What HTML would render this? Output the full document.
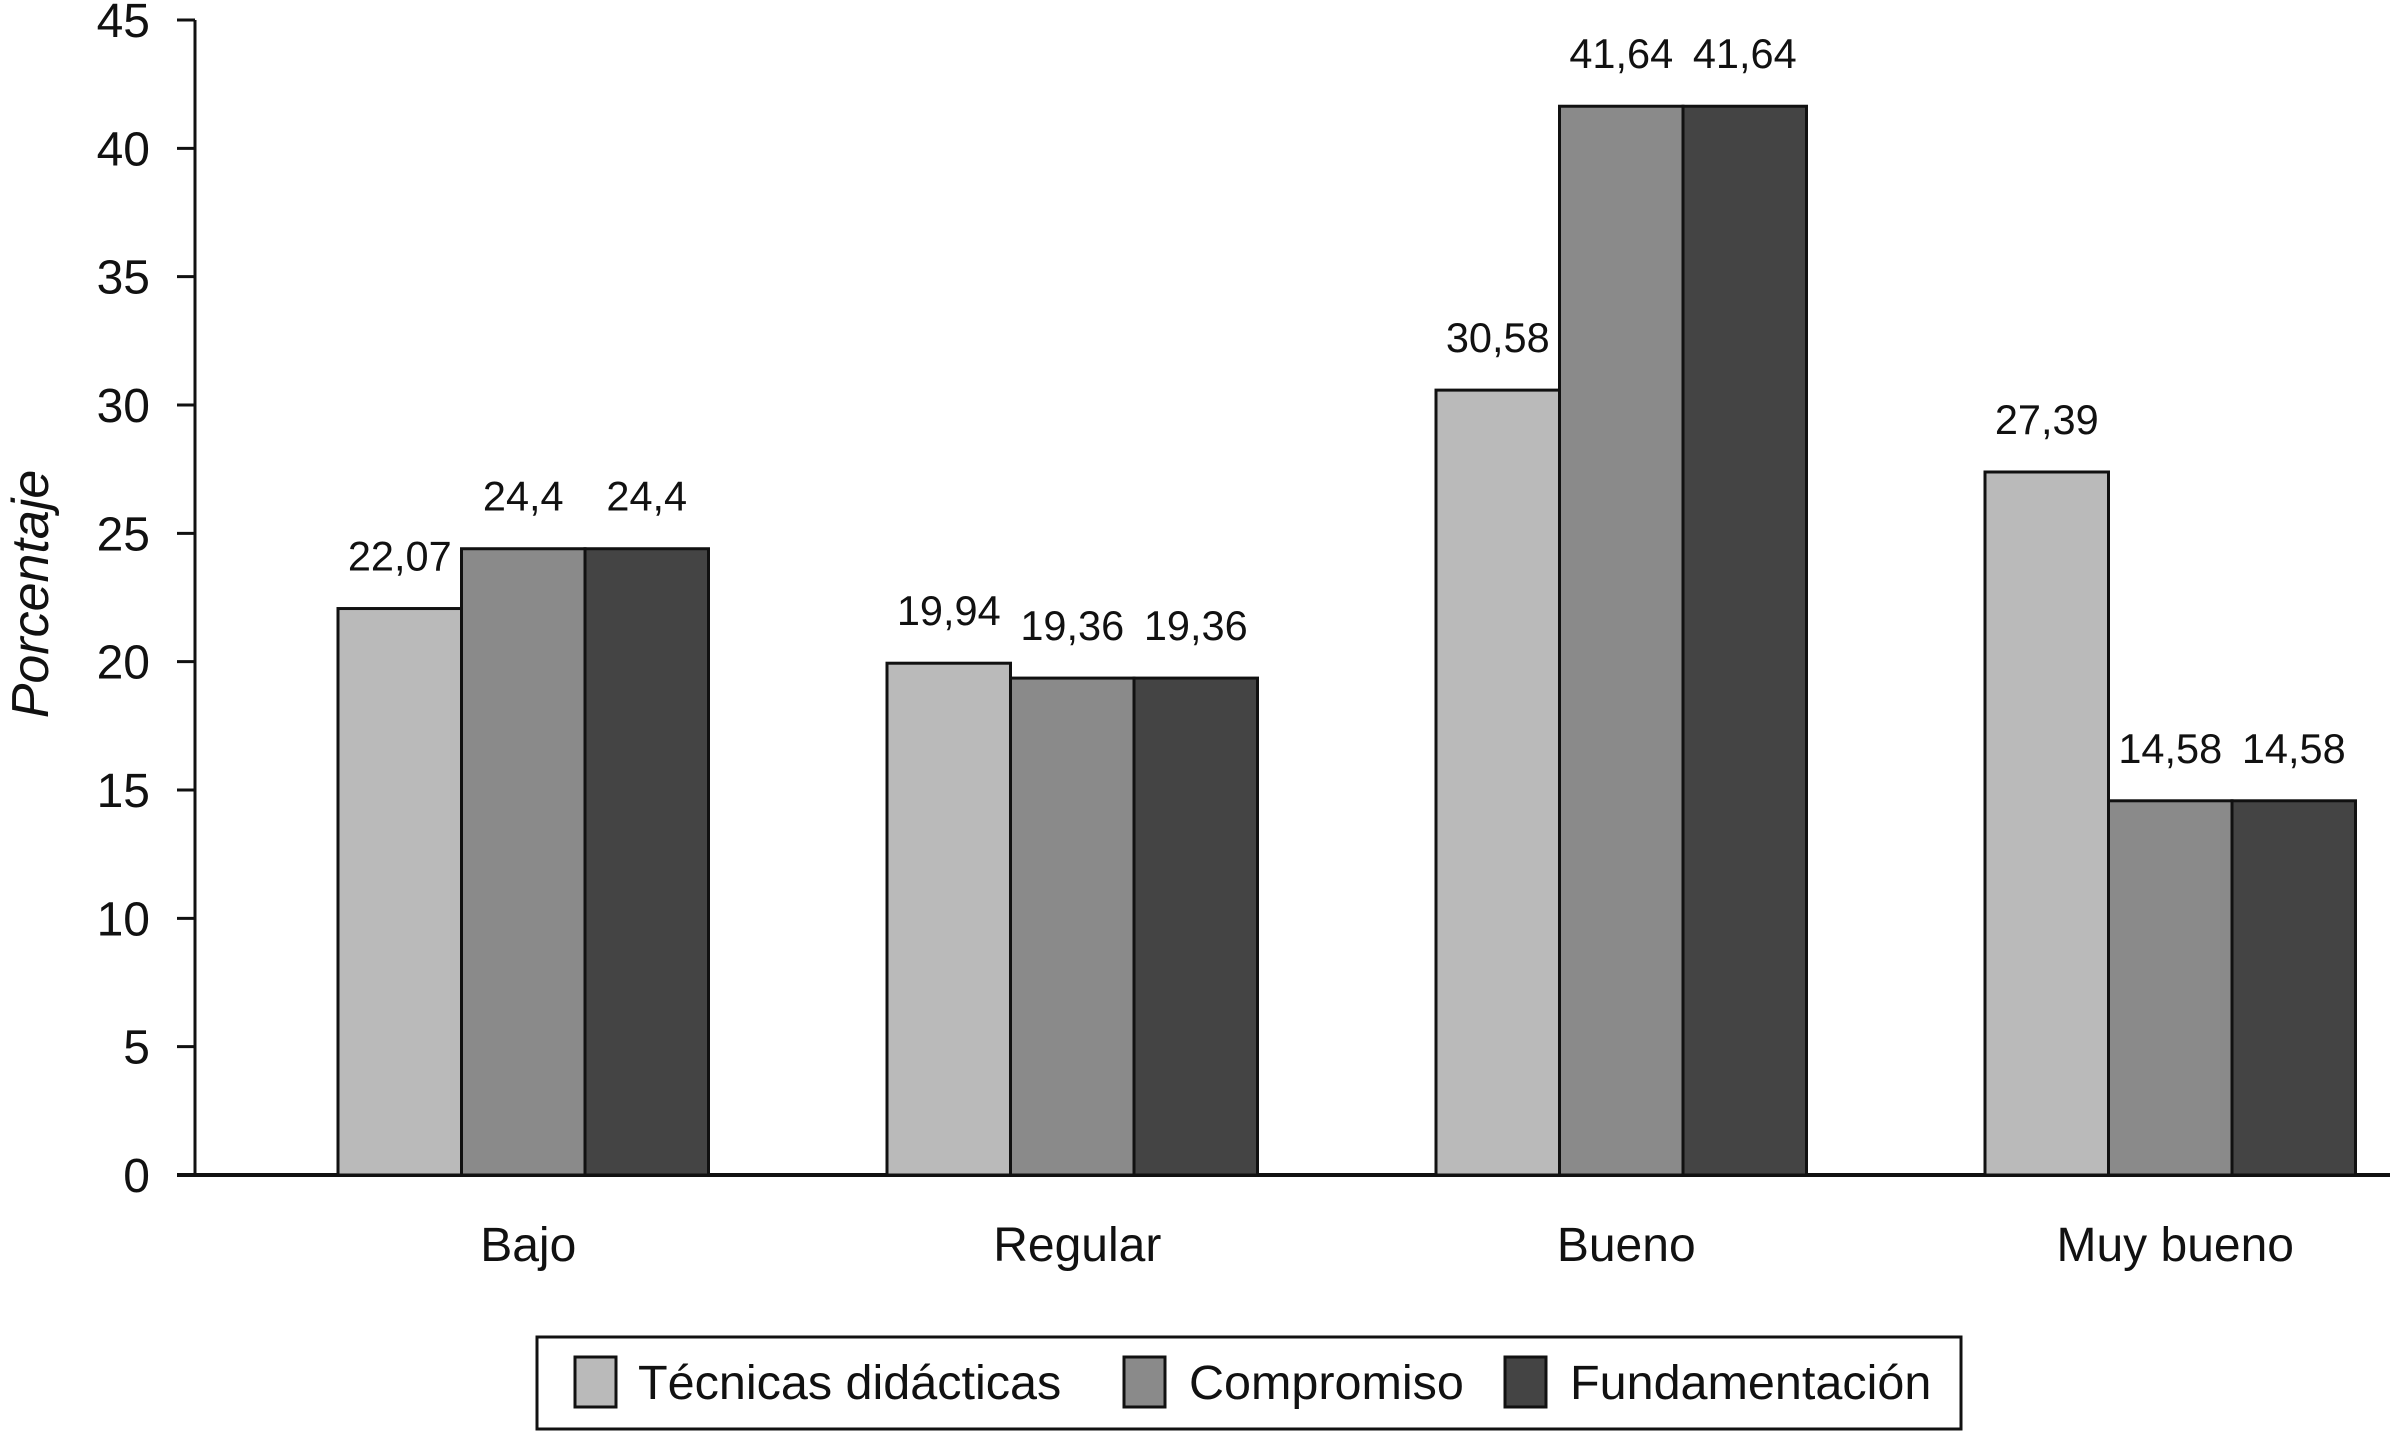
<!DOCTYPE html>
<html><head><meta charset="utf-8"><style>
html,body{margin:0;padding:0;background:#fff;}
svg{display:block;font-family:"Liberation Sans",Arial,sans-serif;}
</style></head><body>
<svg id="chart" width="2390" height="1432" viewBox="0 0 2390 1432" xmlns="http://www.w3.org/2000/svg">
<g id="axes"></g>
<g id="bars"></g>
<g id="labels"></g>
<text x="0" y="0" transform="translate(48,594) rotate(-90)" text-anchor="middle" font-size="52" font-style="italic" fill="#111">Porcentaje</text>
<g>
<rect x="537" y="1337" width="1424" height="92" fill="#fff" stroke="#111" stroke-width="3"/>
<rect x="575" y="1357" width="41" height="50" fill="#bababa" stroke="#111" stroke-width="3"/>
<text x="638" y="1399" font-size="48.5" fill="#111">Técnicas didácticas</text>
<rect x="1124" y="1357" width="41" height="50" fill="#8a8a8a" stroke="#111" stroke-width="3"/>
<text x="1189" y="1399" font-size="48.5" fill="#111">Compromiso</text>
<rect x="1505" y="1357" width="41" height="50" fill="#444" stroke="#111" stroke-width="3"/>
<text x="1570" y="1399" font-size="48.5" fill="#111">Fundamentación</text>
</g>
</svg>
<script>
const categories = ["Bajo","Regular","Bueno","Muy bueno"];
const seriesNames = ["Técnicas didácticas","Compromiso","Fundamentación"];
const tecnicas = [22.07,19.94,30.58,27.39];
const compromiso = [24.4,19.36,41.64,14.58];
const fundamentacion = [24.4,19.36,41.64,14.58];
const yTicks = [0,5,10,15,20,25,30,35,40,45];

const NS="http://www.w3.org/2000/svg";
const series=[tecnicas,compromiso,fundamentacion];
const colors=["#bababa","#8a8a8a","#444444"];
const x0=195, xEnd=2390, yBase=1175, yTop=20, yMax=45;
const groupStart=338, groupStep=549, barW=123.5;
function yScale(v){return yBase-(v/yMax)*(yBase-yTop);}
function xBar(ci,si){return groupStart+ci*groupStep+si*barW;}
function mk(tag,attrs,parent){const e=document.createElementNS(NS,tag);for(const k in attrs)e.setAttribute(k,attrs[k]);parent.appendChild(e);return e;}
const axes=document.getElementById('axes'),bars=document.getElementById('bars'),labels=document.getElementById('labels');

let yl=mk('line',{x1:x0,y1:yScale(yMax),x2:x0,y2:yBase,stroke:'#111','stroke-width':3},axes);


yTicks.forEach(t=>{
  const y=yScale(t);
  const tk=mk('line',{x1:x0-18,y1:y,x2:x0,y2:y,stroke:'#111','stroke-width':3},axes);
  
  
  const tl=mk('text',{x:x0-45,y:y+17,'text-anchor':'end','font-size':48,fill:'#111'},axes);
  tl.textContent=t;
  
  
});

series.forEach((vals,si)=>{
  vals.forEach((v,ci)=>{
    const x=xBar(ci,si), y=yScale(v);
    const r=mk('rect',{x:x,y:y,width:barW,height:yBase-y,fill:colors[si],stroke:'#111','stroke-width':3},bars);
    
    
    const t=mk('text',{x:x+barW/2,y:y-38,'text-anchor':'middle','font-size':41.5,fill:'#111'},labels);
    t.textContent=String(v).replace('.',',');
    
    
  });
});

let xl=mk('line',{x1:x0-18,y1:yBase,x2:xEnd,y2:yBase,stroke:'#111','stroke-width':4},axes);


categories.forEach((c,ci)=>{
  const t=mk('text',{x:xBar(ci,1)+barW/2+5,y:1261,'text-anchor':'middle','font-size':48,fill:'#111'},axes);
  t.textContent=c;
  
  
});
</script>
</body></html>
